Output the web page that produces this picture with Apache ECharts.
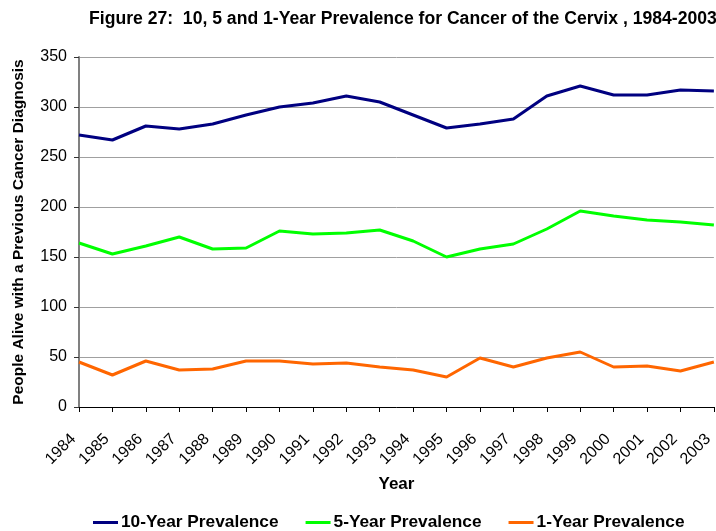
<!DOCTYPE html>
<html>
<head>
<meta charset="utf-8">
<script src="https://cdn.jsdelivr.net/npm/echarts@6/dist/echarts.min.js"></script>
<style>html,body{margin:0;padding:0;background:#fff;}#c{width:716px;height:531px;}</style>
</head>
<body>
<div id="c"></div>
<script>
var years = ['1984','1985','1986','1987','1988','1989','1990','1991','1992','1993','1994','1995','1996','1997','1998','1999','2000','2001','2002','2003'];
var tenYear = [272,267,281,278,283,292,300,304,311,305,292,279,283,288,311,321,312,312,317,316];
var fiveYear = [164,153,161,170,158,159,176,173,174,177,166,150,158,163,178,196,191,187,185,182];
var oneYear = [45,32,46,37,38,46,46,43,44,40,37,30,49,40,49,55,40,41,36,45];
var yTicks = [0,50,100,150,200,250,300,350];

var BOLD = '"Liberation Sans", Arial, sans-serif';
var SANS = '"Liberation Sans", Arial, sans-serif';

var chart = echarts.init(document.getElementById('c'), null, {renderer: 'canvas'});
chart.setOption({
  animation: false,
  backgroundColor: '#ffffff',
  title: {
    text: 'Figure 27:  10, 5 and 1-Year Prevalence for Cancer of the Cervix , 1984-2003',
    left: 89, top: 10, padding: 0,
    textStyle: {fontFamily: BOLD, fontWeight: 'bold', fontSize: 17.6, color: '#000'}
  },
  grid: {left: 79, top: 57, right: -8, bottom: 124, containLabel: false},
  legend: {
    bottom: 0, left: 93, padding: [0, 0, 0, 0],
    itemWidth: 25, itemHeight: 3, itemGap: 27,
    icon: 'rect',
    textStyle: {fontFamily: BOLD, fontWeight: 'bold', fontSize: 17.3, color: '#000', padding: [0, 0, 0, -2]},
    data: ['10-Year Prevalence','5-Year Prevalence','1-Year Prevalence']
  },
  xAxis: {
    type: 'category', data: years, boundaryGap: false,
    name: 'Year', nameLocation: 'middle', nameGap: 69,
    nameTextStyle: {fontFamily: BOLD, fontWeight: 'bold', fontSize: 17, color: '#000'},
    axisLine: {lineStyle: {color: '#000', width: 1}},
    axisTick: {show: true, inside: false, length: 5, alignWithLabel: true, lineStyle: {color: '#000'}},
    axisLabel: {rotate: 45, fontFamily: SANS, fontSize: 16, color: '#000', margin: 24, interval: 0, padding: [0, 8, 0, 0]},
    splitLine: {show: false}
  },
  yAxis: {
    type: 'value', min: 0, max: 350, interval: 50,
    name: 'People Alive with a Previous Cancer Diagnosis', nameLocation: 'middle', nameGap: 52,
    nameTextStyle: {fontFamily: BOLD, fontWeight: 'bold', fontSize: 15.5, color: '#000'},
    axisLine: {show: true, lineStyle: {color: '#808080', width: 2}},
    axisTick: {show: true, length: 5, lineStyle: {color: '#333'}},
    axisLabel: {fontFamily: SANS, fontSize: 16, color: '#000', margin: 12},
    splitLine: {show: true, lineStyle: {color: '#a0a0a0', width: 1}}
  },
  series: [
    {name: '10-Year Prevalence', type: 'line', data: tenYear, symbol: 'none', lineStyle: {color: '#000080', width: 3}, itemStyle: {color: '#000080'}},
    {name: '5-Year Prevalence', type: 'line', data: fiveYear, symbol: 'none', lineStyle: {color: '#00ff00', width: 3}, itemStyle: {color: '#00ff00'}},
    {name: '1-Year Prevalence', type: 'line', data: oneYear, symbol: 'none', lineStyle: {color: '#ff6600', width: 3}, itemStyle: {color: '#ff6600'}}
  ]
});
</script>
</body>
</html>
